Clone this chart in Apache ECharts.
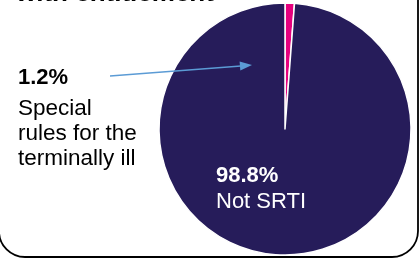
<!DOCTYPE html>
<html>
<head>
<meta charset="utf-8">
<script src="https://cdn.jsdelivr.net/npm/echarts@6/dist/echarts.min.js"></script>
<style>
  html, body { margin: 0; padding: 0; background: #fff; }
  #chart { width: 420px; height: 258px; }
</style>
</head>
<body>
<div id="chart"></div>
<script>
// slice data
var categories = ['Special rules for the terminally ill', 'Not SRTI'];
var values = [1.2, 98.8];
var colors = ['#e6007e', '#261c5a'];
var labelLines = [['Special', 'rules for the', 'terminally ill'], ['Not SRTI']];

var myChart = echarts.init(document.getElementById('chart'));
var font = '"Liberation Sans", Arial, sans-serif';

var option = {
    backgroundColor: '#ffffff',
    animation: false,
    series: [{
        type: 'pie',
        center: [285, 129],
        radius: [0, 126],
        startAngle: 90,
        clockwise: true,
        label: { show: false },
        labelLine: { show: false },
        itemStyle: { borderColor: '#ffffff', borderWidth: 1.5 },
        data: categories.map(function (c, i) {
            return { name: c, value: values[i], itemStyle: { color: colors[i] } };
        })
    }],
    graphic: [
        // rounded box outline
        {
            type: 'rect', z: 1,
            shape: { x: -1, y: -40, width: 419, height: 297, r: 26 },
            style: { fill: 'none', stroke: '#000', lineWidth: 1.8 }
        },
        // cut-off heading
        {
            type: 'text', left: 16, top: -19, z: 5,
            style: { text: 'with entitlement', font: 'bold 26px ' + font, fill: '#000' }
        },
        // left label
        {
            type: 'text', left: 18, top: 67, z: 5,
            style: { text: values[0].toFixed(1) + '%', font: 'bold 22px ' + font, fill: '#000' }
        },
        {
            type: 'text', left: 18, top: 96, z: 5,
            style: { text: labelLines[0].join('\n'), font: '22.5px ' + font, lineHeight: 25, fill: '#000' }
        },
        // arrow
        {
            type: 'line', z: 5,
            shape: { x1: 110, y1: 76, x2: 241, y2: 66 },
            style: { stroke: '#5b9bd5', lineWidth: 1.3 }
        },
        {
            type: 'polygon', z: 5,
            shape: { points: [[252, 65], [240.3, 70.4], [239.6, 61.4]] },
            style: { fill: '#5b9bd5' }
        },
        // inside label
        {
            type: 'text', left: 216, top: 165, z: 5,
            style: { text: values[1].toFixed(1) + '%', font: 'bold 22px ' + font, fill: '#fff' }
        },
        {
            type: 'text', left: 216, top: 191, z: 5,
            style: { text: labelLines[1].join('\n'), font: '22px ' + font, fill: '#fff' }
        }
    ]
};
myChart.setOption(option);
</script>
</body>
</html>
